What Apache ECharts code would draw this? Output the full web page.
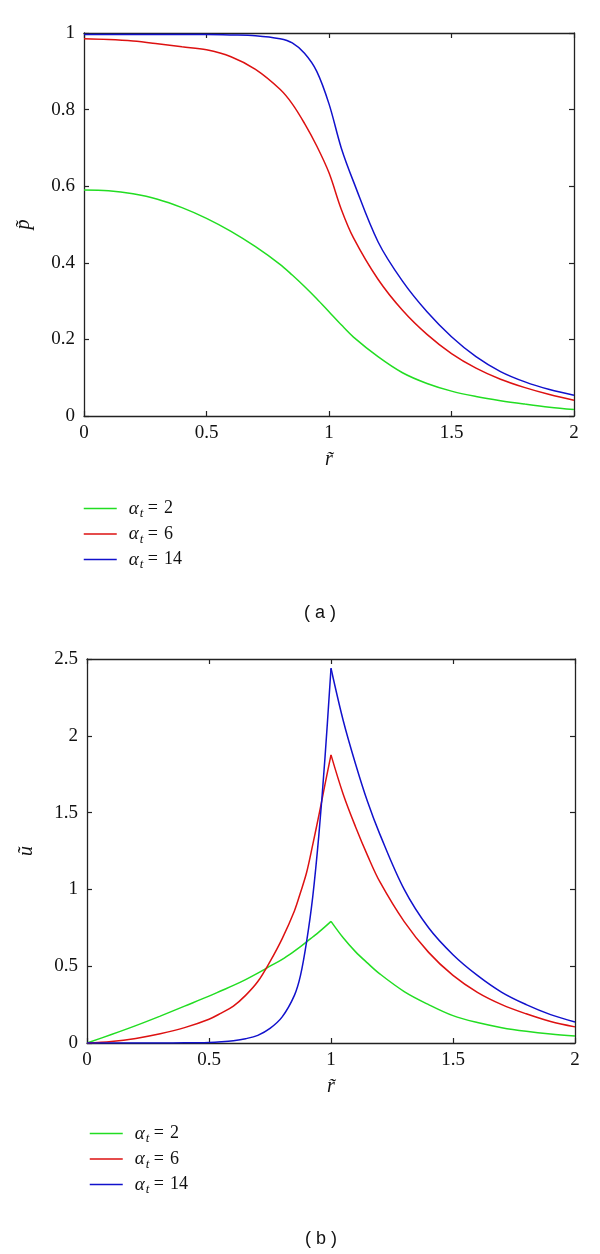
<!DOCTYPE html>
<html>
<head>
<meta charset="utf-8">
<script src="https://cdn.jsdelivr.net/npm/echarts@6/dist/echarts.min.js"></script>
<style>
html,body{margin:0;padding:0;background:#fff;}
#c{width:600px;height:1254px;}
</style>
</head>
<body>
<div id="c"></div>
<script>
// ---- Panel (a): p~ vs r~ ----
var rTop = [0,0.1,0.2,0.3,0.4,0.5,0.6,0.7,0.8,0.85,0.9,0.95,1.0,1.05,1.1,1.2,1.3,1.4,1.5,1.6,1.7,1.8,1.9,2.0];
var pA2  = [0.590,0.588,0.580,0.566,0.544,0.516,0.482,0.442,0.396,0.368,0.338,0.306,0.272,0.238,0.206,0.155,0.113,0.085,0.065,0.051,0.040,0.031,0.023,0.017];
var pA6  = [0.985,0.983,0.979,0.972,0.964,0.956,0.938,0.905,0.853,0.815,0.764,0.705,0.635,0.540,0.465,0.357,0.276,0.213,0.163,0.125,0.096,0.074,0.056,0.041];
var pA14 = [0.996,0.996,0.996,0.996,0.996,0.996,0.995,0.993,0.985,0.974,0.947,0.900,0.815,0.700,0.612,0.455,0.352,0.272,0.207,0.155,0.116,0.089,0.069,0.054];

// ---- Panel (b): u~ vs r~ (cusp at r~ = 1) ----
var rLeft  = [0,0.1,0.2,0.3,0.4,0.5,0.55,0.6,0.65,0.7,0.75,0.8,0.85,0.875,0.9,0.925,0.95,0.975,1.0];
var uA2L   = [0,0.055,0.113,0.175,0.240,0.305,0.340,0.375,0.413,0.455,0.500,0.545,0.598,0.627,0.658,0.690,0.722,0.756,0.792];
var uA6L   = [0,0.010,0.030,0.060,0.100,0.155,0.195,0.240,0.310,0.400,0.530,0.680,0.860,0.980,1.110,1.290,1.480,1.680,1.876];
var uA14L  = [0,0,0,0,0.001,0.004,0.008,0.015,0.028,0.050,0.095,0.170,0.310,0.440,0.660,0.950,1.350,1.850,2.440];
var rRight = [1.0,1.05,1.1,1.15,1.2,1.3,1.4,1.5,1.6,1.7,1.8,1.9,2.0];
var uA2R   = [0.792,0.685,0.595,0.520,0.450,0.335,0.250,0.178,0.133,0.100,0.076,0.058,0.045];
var uA6R   = [1.876,1.620,1.410,1.220,1.050,0.790,0.590,0.440,0.330,0.250,0.190,0.140,0.105];
var uA14R  = [2.440,2.100,1.820,1.570,1.360,1.000,0.750,0.575,0.440,0.330,0.250,0.185,0.137];

var legendTs = ['2','6','14'];

function zip(xs, ys){ return xs.map(function(x,i){ return [x, ys[i]]; }); }

var colors = ['#22dd22','#dd1111','#1111cc'];
var axisColor = '#222';
var serif = 'Liberation Serif';

function mainX(gi){
  return {
    type:'value', gridIndex:gi, min:0, max:2, interval:0.5, position:'bottom',
    axisLine:{show:true, onZero:false, lineStyle:{color:axisColor, width:1.3}},
    axisTick:{show:true, inside:true, length:5, lineStyle:{color:axisColor, width:1.2}},
    axisLabel:{show:true, color:'#111', fontFamily:serif, fontSize:19, margin:8},
    splitLine:{show:false},
    name:'r\u0303', nameLocation:'middle', nameGap:34,
    nameTextStyle:{fontFamily:serif, fontSize:20, fontStyle:'italic', color:'#111'}
  };
}
function mirrorX(gi){
  return {
    type:'value', gridIndex:gi, min:0, max:2, interval:0.5, position:'top',
    axisLine:{show:true, onZero:false, lineStyle:{color:axisColor, width:1.3}},
    axisTick:{show:true, inside:true, length:5, lineStyle:{color:axisColor, width:1.2}},
    axisLabel:{show:false}, splitLine:{show:false}
  };
}
function mainY(gi, max, interval, nm){
  return {
    type:'value', gridIndex:gi, min:0, max:max, interval:interval, position:'left',
    axisLine:{show:true, onZero:false, lineStyle:{color:axisColor, width:1.3}},
    axisTick:{show:true, inside:true, length:5, lineStyle:{color:axisColor, width:1.2}},
    axisLabel:{show:true, color:'#111', fontFamily:serif, fontSize:19, margin:9},
    splitLine:{show:false},
    name:nm, nameLocation:'middle', nameGap:50, nameRotate:90,
    nameTextStyle:{fontFamily:serif, fontSize:20, fontStyle:'italic', color:'#111'}
  };
}
function mirrorY(gi, max, interval){
  return {
    type:'value', gridIndex:gi, min:0, max:max, interval:interval, position:'right',
    axisLine:{show:true, onZero:false, lineStyle:{color:axisColor, width:1.3}},
    axisTick:{show:true, inside:true, length:5, lineStyle:{color:axisColor, width:1.2}},
    axisLabel:{show:false}, splitLine:{show:false}
  };
}
function line(name, data, ci, xi, yi){
  return {
    name:name, type:'line', xAxisIndex:xi, yAxisIndex:yi, data:data,
    symbol:'none', smooth:0.35, animation:false,
    lineStyle:{color:colors[ci], width:1.5}, itemStyle:{color:colors[ci]}
  };
}

var namesA = ['pa2','pa6','pa14'];
var namesB = ['ub2','ub6','ub14'];
var labelOf = {pa2:legendTs[0], pa6:legendTs[1], pa14:legendTs[2], ub2:legendTs[0], ub6:legendTs[1], ub14:legendTs[2]};

function legendCfg(top, left, names){
  return {
    orient:'vertical', left:left, top:top, padding:0, itemWidth:33, itemHeight:14, itemGap:1.5,
    data:names, selectedMode:false,
    itemStyle:{opacity:0},
    lineStyle:{width:1.5},
    formatter:function(n){ return '{a|\u03b1}{s|t}{b|\u00a0=\u00a0\u200a' + labelOf[n] + '}'; },
    textStyle:{
      color:'#111', fontFamily:serif, fontSize:18, padding:[0,0,0,7],
      rich:{
        a:{fontFamily:serif, fontSize:19, fontStyle:'italic', color:'#111', lineHeight:18},
        s:{fontFamily:serif, fontSize:13, fontStyle:'italic', color:'#111', lineHeight:12, padding:[11,0,0,1]},
        b:{fontFamily:serif, fontSize:18, color:'#111', lineHeight:18}
      }
    }
  };
}

var option = {
  backgroundColor:'#fff',
  animation:false,
  grid:[
    {left:84, top:33, width:490, height:383},
    {left:87, top:659, width:488, height:384}
  ],
  xAxis:[ mainX(0), mirrorX(0), mainX(1), mirrorX(1) ],
  yAxis:[ mainY(0,1,0.2,'p\u0303'), mirrorY(0,1,0.2), mainY(1,2.5,0.5,'u\u0303'), mirrorY(1,2.5,0.5) ],
  legend:[ legendCfg(496.5, 83, namesA), legendCfg(1121.5, 89, namesB) ],
  series:[
    line('pa2', zip(rTop,pA2), 0, 0, 0),
    line('pa6', zip(rTop,pA6), 1, 0, 0),
    line('pa14', zip(rTop,pA14), 2, 0, 0),
    line('ub2', zip(rLeft,uA2L), 0, 2, 2),
    line('ub6', zip(rLeft,uA6L), 1, 2, 2),
    line('ub14', zip(rLeft,uA14L), 2, 2, 2),
    line('ub2', zip(rRight,uA2R), 0, 2, 2),
    line('ub6', zip(rRight,uA6R), 1, 2, 2),
    line('ub14', zip(rRight,uA14R), 2, 2, 2)
  ],
  graphic:[
    {type:'text', left:304, top:604, style:{text:'( a )', font:'18px "Liberation Sans"', fill:'#111'}},
    {type:'text', left:305, top:1230, style:{text:'( b )', font:'18px "Liberation Sans"', fill:'#111'}}
  ]
};

var chart = echarts.init(document.getElementById('c'), null, {renderer:'canvas'});
chart.setOption(option);
</script>
</body>
</html>
